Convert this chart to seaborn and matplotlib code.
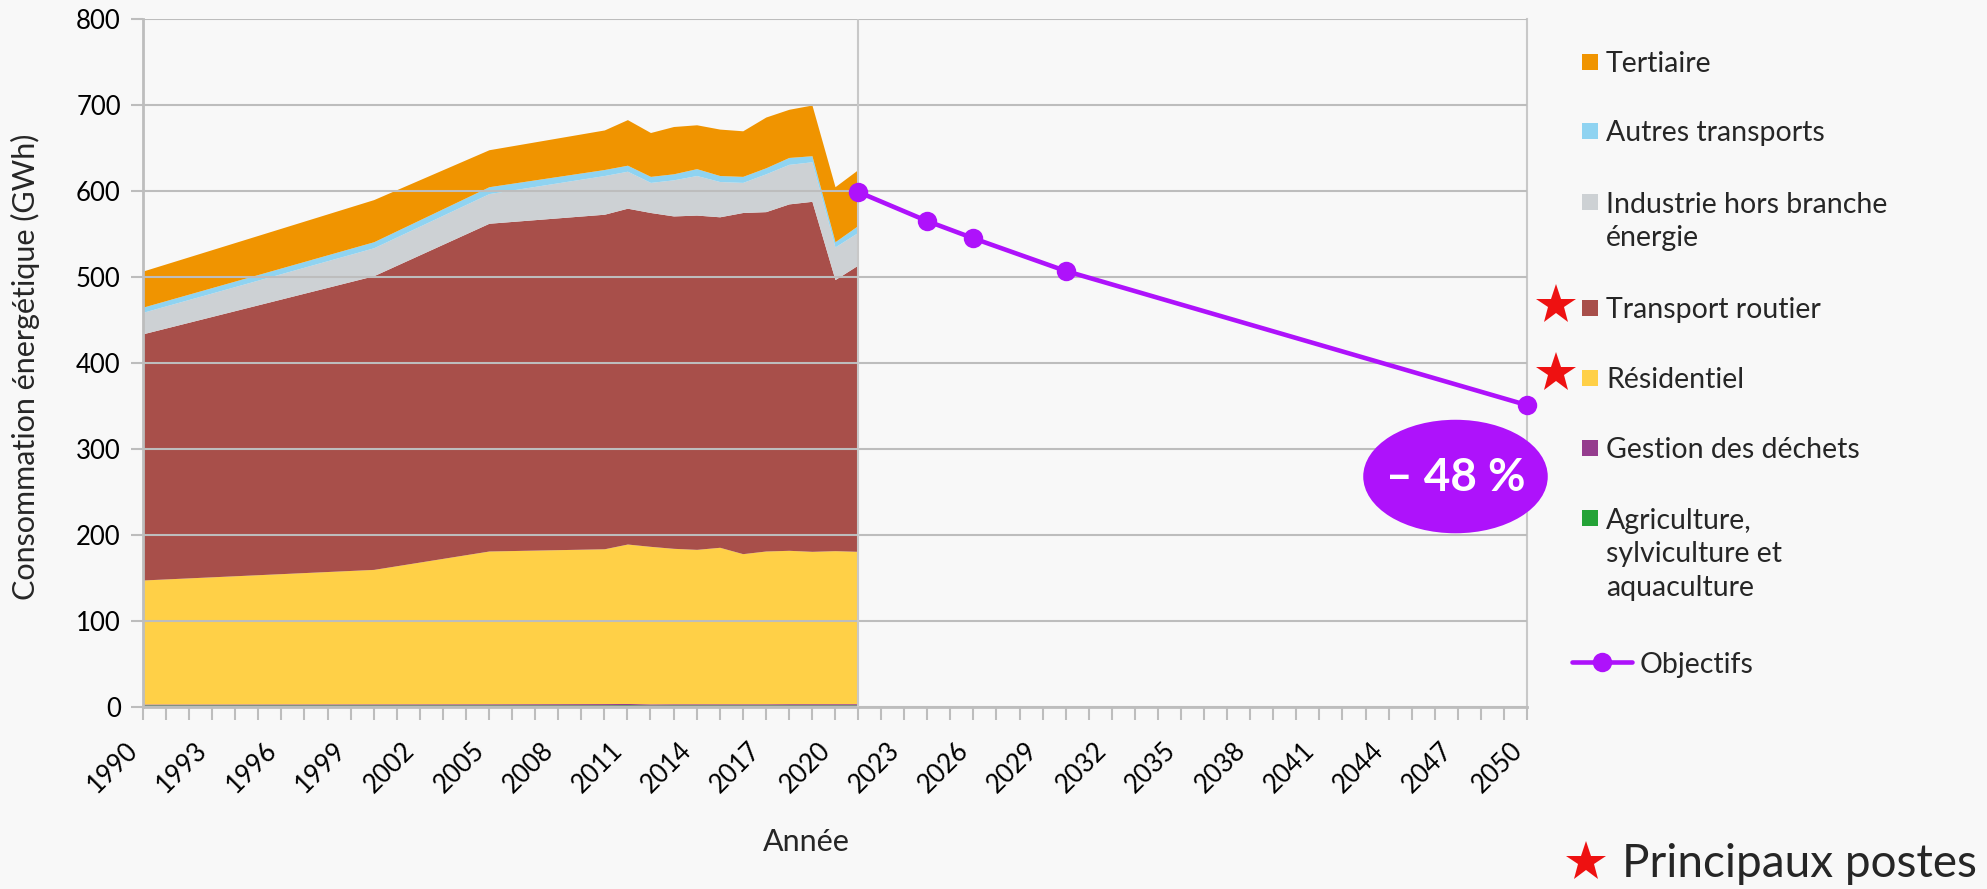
import matplotlib
matplotlib.use("Agg")
import matplotlib.pyplot as plt
import seaborn as sns
from matplotlib.patches import Ellipse, Rectangle
from matplotlib.lines import Line2D

# ---------------- data ----------------
years = [1990, 2000, 2005, 2010, 2011, 2012, 2013, 2014, 2015, 2016, 2017, 2018, 2019, 2020, 2021]
agriculture = [2.5, 2.5, 2.5, 2.5, 2.6, 2.4, 2.5, 2.5, 2.5, 2.5, 2.5, 2.5, 2.5, 2.5, 2.5]
dechets = [1.0, 1.2, 1.3, 1.5, 1.5, 1.3, 1.3, 1.3, 1.3, 1.3, 1.3, 1.4, 1.4, 1.4, 1.4]
residentiel = [144.2, 156.3, 177.6, 180.0, 185.4, 183.1, 180.7, 179.5, 181.9, 174.5, 177.6, 178.3, 177.1, 177.9, 177.1]
transport_routier = [286.3, 341.5, 381.1, 389.0, 390.5, 388.2, 386.5, 388.7, 384.3, 396.7, 394.6, 402.8, 407.0, 315.2, 333.0]
industrie = [25, 32.5, 34.5, 45, 43, 35, 42, 46, 41, 35, 44, 46, 46, 38, 38]
autres_transports = [6, 7, 8, 7, 7, 7, 7, 8, 7, 7, 7, 8, 7, 6, 8]
tertiaire = [42, 49, 43, 46, 53, 51, 55, 51, 54, 53, 59, 56, 59, 64, 65]

obj_years = [2021, 2024, 2026, 2030, 2050]
obj_values = [599, 565, 545, 507, 351]

series_labels = ["Tertiaire", "Autres transports", "Industrie hors branche\nénergie",
                 "Transport routier", "Résidentiel", "Gestion des déchets",
                 "Agriculture,\nsylviculture et\naquaculture"]
objectif_label = "Objectifs"
reduction_text = "– 48 %"
ylabel_text = "Consommation énergétique (GWh)"
xlabel_text = "Année"
star_note = "Principaux postes"
yticks = [0, 100, 200, 300, 400, 500, 600, 700, 800]
xtick_years = list(range(1990, 2051))

# ---------------- style ----------------
c_tert = "#f09400"
c_autres = "#8fd3f1"
c_ind = "#cdd1d4"
c_route = "#a84f4a"
c_resid = "#ffd047"
c_dech = "#953d8e"
c_agri = "#24a337"
c_obj = "#ae12fb"
bg = "#f8f8f8"
gridc = "#bdbdbd"

sns.set_theme(style="white")
plt.rcParams['font.family'] = ['Lato', 'DejaVu Sans']

W, H = 1987, 889
fig = plt.figure(figsize=(W / 100, H / 100), dpi=100, facecolor=bg)
ax = fig.add_axes([143 / W, 1 - 707 / H, (1527 - 143) / W, (707 - 19) / H])
ax.set_facecolor(bg)

ax.stackplot(years, agriculture, dechets, residentiel, transport_routier,
             industrie, autres_transports, tertiaire,
             colors=[c_agri, c_dech, c_resid, c_route, c_ind, c_autres, c_tert],
             linewidth=0, zorder=1)

ax.axvline(2021, color="#c8c8c8", lw=1.5, zorder=2.6)

sns.lineplot(x=obj_years, y=obj_values, ax=ax, color=c_obj, linewidth=3.3,
             marker="o", markersize=14, markeredgewidth=0, zorder=5,
             clip_on=False, legend=False)

ell = Ellipse((2046.9, 268), width=8.0, height=132, facecolor=c_obj,
              edgecolor="none", zorder=6, clip_on=False)
ax.add_patch(ell)
ax.text(2046.9, 266, reduction_text, color="white", fontsize=33,
        fontweight="bold", ha="center", va="center", zorder=7)

ax.set_xlim(1990, 2050)
ax.set_ylim(0, 800)
ax.set_yticks(yticks)
ax.set_xticks(xtick_years)
ax.set_xticklabels([str(y) if (y - 1990) % 3 == 0 else "" for y in xtick_years])
plt.setp(ax.get_xticklabels(), rotation=45, ha="right")
ax.tick_params(axis="x", length=9, width=1.5, color=gridc, labelsize=18.5,
               pad=13, labelcolor="black", bottom=True)
ax.tick_params(axis="y", length=9, width=1.5, color=gridc, labelsize=18.5,
               pad=7, labelcolor="black", left=True)
ax.set_axisbelow(False)
ax.yaxis.grid(True, color=gridc, linewidth=1.5)
ax.xaxis.grid(False)
for s in ["left", "bottom"]:
    ax.spines[s].set_color(gridc)
    ax.spines[s].set_linewidth(2)
ax.spines["right"].set_color("#c8c8c8")
ax.spines["right"].set_linewidth(1.5)
ax.spines["top"].set_visible(False)
ax.set_xlabel("")
ax.set_ylabel("")


def fx(px):
    return px / W


def fy(py):
    return 1 - py / H


fig.text(fx(25), fy(367), ylabel_text, rotation=90, ha="center", va="center", fontsize=22)
fig.text(fx(806), fy(842), xlabel_text, ha="center", va="center", fontsize=22)

# ---------------- legend (manual) ----------------
leg_colors = [c_tert, c_autres, c_ind, c_route, c_resid, c_dech, c_agri]
leg_y = [62, 131, 202, 308, 378, 448, 518]
for lab, col, y in zip(series_labels, leg_colors, leg_y):
    fig.add_artist(Rectangle((fx(1582), fy(y + 8)), 16 / W, 16 / H,
                             transform=fig.transFigure, facecolor=col, edgecolor="none"))
    if "\n" in lab:
        fig.text(fx(1606), fy(y - 10), lab, ha="left", va="top", fontsize=20.5,
                 linespacing=1.35)
    else:
        fig.text(fx(1606), fy(y + 2), lab, ha="left", va="center", fontsize=20.5)

for y in [305, 373]:
    fig.add_artist(Line2D([fx(1556)], [fy(y)], marker="*", markersize=30, color="#ee1111",
                          markeredgewidth=0, transform=fig.transFigure))

fig.add_artist(Line2D([fx(1572), fx(1632)], [fy(662), fy(662)], color=c_obj, lw=3.3,
                      transform=fig.transFigure))
fig.add_artist(Line2D([fx(1602)], [fy(662)], marker="o", markersize=14, color=c_obj,
                      markeredgewidth=0, transform=fig.transFigure))
fig.text(fx(1640), fy(665), objectif_label, ha="left", va="center", fontsize=20.5)

fig.add_artist(Line2D([fx(1586)], [fy(862)], marker="*", markersize=30, color="#ee1111",
                      markeredgewidth=0, transform=fig.transFigure))
fig.text(fx(1622), fy(864), star_note, ha="left", va="center", fontsize=33)

fig.savefig("out.png", dpi=100, facecolor=bg)
